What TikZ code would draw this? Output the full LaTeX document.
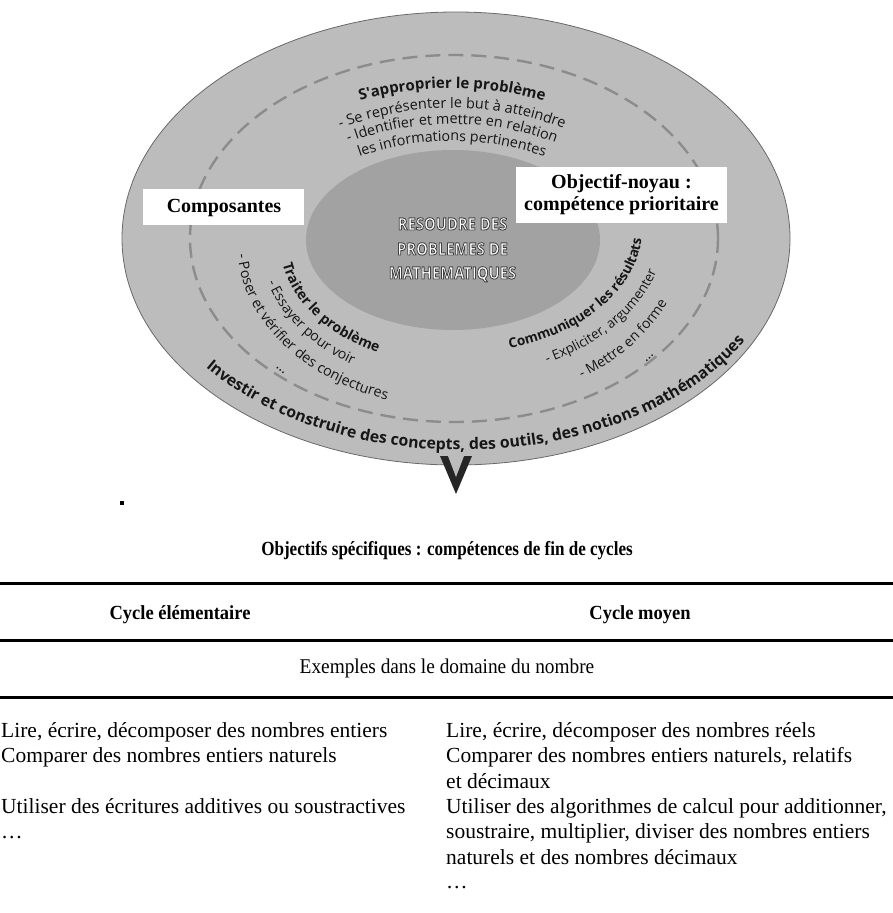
\documentclass[tikz,border=0pt]{standalone}
\usepackage{fontspec}
\setmainfont{Liberation Serif}
\newfontfamily\sansf{Open Sans}
\usetikzlibrary{decorations.text}
\definecolor{ringgray}{RGB}{188,188,188}
\definecolor{coregray}{RGB}{162,162,162}
\definecolor{edgegray}{RGB}{105,105,105}
\definecolor{dashgray}{RGB}{140,140,140}
\definecolor{inktext}{RGB}{22,22,22}
\newcommand\sbf[1]{\sansf\bfseries\fontsize{#1}{#1}\selectfont}
\newcommand\srm[1]{\sansf\fontsize{#1}{#1}\selectfont}
\newcommand\outlined[1]{\scalebox{0.87}[1]{{\color{white}\special{pdf:literal direct 0.25 G 0.9 w 1 j 2 Tr}#1\special{pdf:literal direct 0 Tr}}}}
\tikzset{
  arcc/.style={decorate, decoration={text along path, text color=inktext, text align=center, text={#1}}},
  arcl/.style={decorate, decoration={text along path, text color=inktext, text align=left, text={#1}}},
  coretext/.style={anchor=base, inner sep=0pt, font=\sansf\bfseries\fontsize{17}{18}\selectfont},
  boxlabel/.style={anchor=base, inner sep=0pt, font=\bfseries\fontsize{20}{22}\selectfont},
  whitebox/.style={fill=white, inner sep=0pt, draw=none},
  titletext/.style={anchor=base, inner sep=0pt, font=\bfseries\fontsize{20}{24}\selectfont},
  headbold/.style={anchor=base, inner sep=0pt, font=\bfseries\fontsize{20}{24}\selectfont},
  bodytext/.style={anchor=base west, inner sep=0pt, font=\fontsize{21.5}{25}\selectfont},
  rule/.style={line width=3pt, black}
}
\begin{document}
\begin{tikzpicture}[x=1pt,y=1pt]
\useasboundingbox (0,0) rectangle (893,-913);

% ---- ellipses
\filldraw[fill=ringgray, draw=edgegray, line width=0.8pt] (456,-238.5) ellipse [x radius=334, y radius=226.5];
\fill[coregray] (453,-240) ellipse [x radius=147, y radius=90];
\draw[dashgray, line width=2.4pt, dash pattern=on 15pt off 8pt] (454,-238.5) ellipse [x radius=264, y radius=183.5];

% ---- top block
\path[arcc={|\sbf{15}|S'approprier le problème}] (452,-420) ++(130:332) arc[start angle=130, end angle=50, radius=332];
\path[arcc={|\srm{14.5}|- Se représenter le but à atteindre}] (452,-420) ++(135:312) arc[start angle=135, end angle=45, radius=312];
\path[arcc={|\srm{14.4}|- Identifier et mettre en relation}] (452,-420) ++(140:296) arc[start angle=140, end angle=40, radius=296];
\path[arcc={|\srm{14.3}|les informations pertinentes}] (452,-420) ++(140:279) arc[start angle=140, end angle=40, radius=279];

% ---- lower left block
\path[arcl={|\sbf{14}|Traiter le problème}] (455,-243) ++(190:175 and 122) arc[start angle=190, end angle=290, x radius=175, y radius=122];
\path[arcl={|\srm{14}|- Essayer pour voir}] (455,-243) ++(196:195 and 143) arc[start angle=196, end angle=290, x radius=195, y radius=143];
\path[arcl={|\srm{14.3}|- Poser et vérifier des conjectures}] (455,-243) ++(184:218 and 165) arc[start angle=184, end angle=290, x radius=218, y radius=165];
\path[arcc={|\srm{14}|…}] (455,-243) ++(216:240 and 187) arc[start angle=216, end angle=230, x radius=240, y radius=187];

% ---- lower right block
\path[arcl={|\sbf{13.5}|Communiquer les résultats}] (455,-230) ++(287:187 and 124) arc[start angle=287, end angle=380, x radius=187, y radius=124];
\path[arcl={|\srm{13.5}|- Expliciter, argumenter}] (455,-230) ++(296:210 and 148) arc[start angle=296, end angle=370, x radius=210, y radius=148];
\path[arcl={|\srm{14}|- Mettre en forme}] (455,-230) ++(303:233 and 177) arc[start angle=303, end angle=365, x radius=233, y radius=177];
\path[arcc={|\srm{14}|…}] (455,-230) ++(313:255 and 200) arc[start angle=313, end angle=327, x radius=255, y radius=200];

% ---- bottom text
\path[arcl={|\sbf{15.8}|Investir et construire des concepts, des outils, des notions mathématiques}] (462,-238.5) ++(217.5:323 and 211.5) arc[start angle=217.5, end angle=350, x radius=323, y radius=211.5];

% ---- core text (white letters, dark outline)
\node[coretext] (coreA) at (452.5,-230) {\outlined{RESOUDRE DES}};
\node[coretext] (coreB) at (452.5,-255) {\outlined{PROBLEMES DE}};
\node[coretext] (coreC) at (452.5,-279) {\outlined{MATHEMATIQUES}};

% ---- white boxes
\node[whitebox, minimum width=161pt, minimum height=36pt] (compbox) at (223.5,-207) {};
\node[boxlabel] (comptext) at (224,-212) {Composantes};
\node[whitebox, minimum width=211pt, minimum height=56pt] (objbox) at (621.5,-195) {};
\node[boxlabel] (objtextA) at (621.5,-188) {Objectif-noyau :};
\node[boxlabel] (objtextB) at (621.5,-210) {compétence prioritaire};

% ---- arrow head below ellipse
\fill[black!85] (440,-456) -- (456,-494) -- (472,-456) -- cycle;
\fill[ringgray] (448,-456) -- (456,-477) -- (464,-456) -- cycle;

% ---- dot
\fill[black] (120,-501) rectangle (123.5,-505);

% ---- table
\node[titletext] (title) at (447,-555.5) {\scalebox{0.853}[1]{Objectifs spécifiques : compétences de fin de cycles}};
\draw[rule] (0,-583) -- (893,-583);
\node[headbold] (headL) at (180,-619.5) {\scalebox{0.925}[1]{Cycle élémentaire}};
\node[headbold] (headR) at (640,-619.5) {\scalebox{0.925}[1]{Cycle moyen}};
\draw[rule] (0,-640) -- (893,-640);
\node[anchor=base, inner sep=0pt, font=\fontsize{21}{25}\selectfont] (examples) at (447,-673) {\scalebox{0.92}[1]{Exemples dans le domaine du nombre}};
\draw[rule] (0,-697) -- (893,-697);

\node[bodytext] (l1) at (1,-737) {Lire, écrire, décomposer des nombres entiers};
\node[bodytext] (l2) at (1,-762) {Comparer des nombres entiers naturels};
\node[bodytext] (l3) at (1,-813) {Utiliser des écritures additives ou soustractives};
\node[bodytext] (l4) at (1,-838) {…};

\node[bodytext] (r1) at (446,-737) {Lire, écrire, décomposer des nombres réels};
\node[bodytext] (r2) at (446,-762) {Comparer des nombres entiers naturels, relatifs};
\node[bodytext] (r3) at (446,-788) {et décimaux};
\node[bodytext] (r4) at (446,-813) {Utiliser des algorithmes de calcul pour additionner,};
\node[bodytext] (r5) at (446,-838) {soustraire, multiplier, diviser des nombres entiers};
\node[bodytext] (r6) at (446,-864) {naturels et des nombres décimaux};
\node[bodytext] (r7) at (446,-888) {…};
\end{tikzpicture}
\end{document}
